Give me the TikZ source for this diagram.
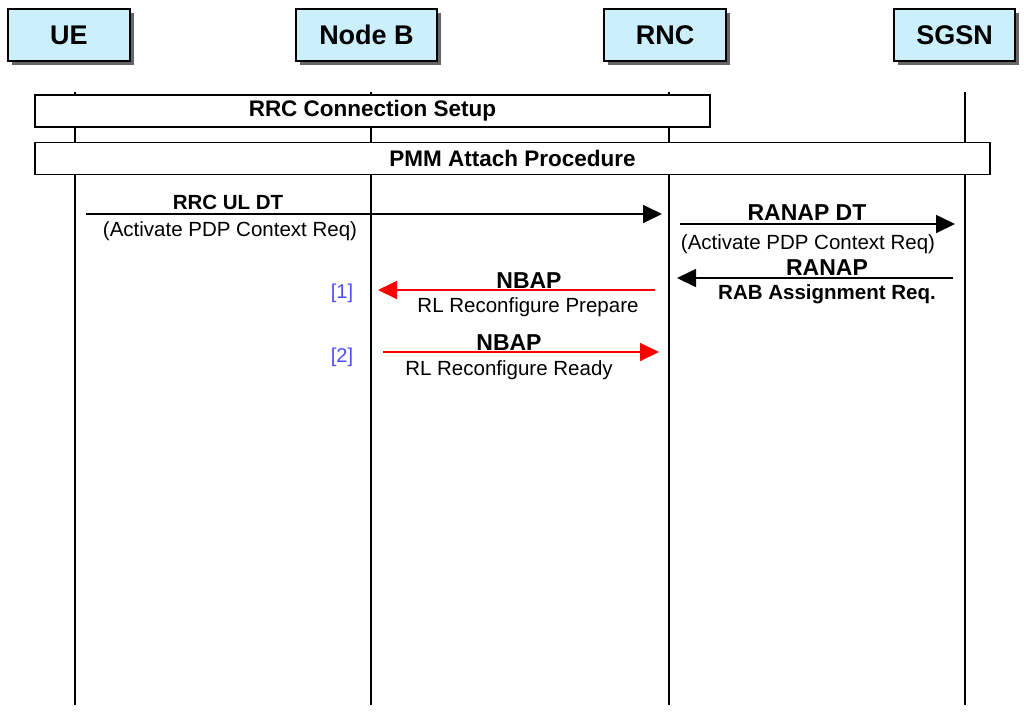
\documentclass[tikz,border=0pt]{standalone}
\usepackage{fontspec}
\setmainfont{Liberation Sans}
\usetikzlibrary{arrows.meta,shadows}

\begin{document}
\begin{tikzpicture}[x=1pt,y=-1pt,
  entity/.style={draw, line width=1.6pt, fill=cyan!20, minimum height=52pt,
    font=\fontsize{27}{30}\selectfont\bfseries,
    drop shadow={shadow xshift=4pt, shadow yshift=-4pt, fill=black!60, opacity=1}},
  bar/.style={draw, line width=1.5pt, fill=white, minimum height=32pt,
    font=\fontsize{22.5}{25}\selectfont\bfseries},
  life/.style={line width=1.8pt},
  msg/.style={line width=1.7pt, -{Triangle[length=19pt,width=18pt]}},
  title/.style={anchor=base, font=\fontsize{20.5}{23}\selectfont\bfseries},
  bigtitle/.style={anchor=base, font=\fontsize{23}{26}\selectfont\bfseries},
  detail/.style={anchor=base, font=\fontsize{20.5}{23}\selectfont},
  tag/.style={anchor=base, text=blue!70!white, font=\fontsize{20}{23}\selectfont}]
  \useasboundingbox[fill=white] (0,0) rectangle (1024,716);

  % entities
  \node[entity, minimum width=122pt] (ue) at (69,35) {UE};
  \node[entity, minimum width=141pt] (nodeb) at (366.5,35) {Node B};
  \node[entity, minimum width=122pt] (rnc) at (665,35) {RNC};
  \node[entity, minimum width=121pt] (sgsn) at (954.5,35) {SGSN};

  % lifelines
  \foreach \n/\x in {ue/75,nodeb/371,rnc/669,sgsn/965} {
    \coordinate (\n top) at (\x,92);
    \coordinate (\n bot) at (\x,705);
    \draw[life] (\n top) -- (\n bot);
  }

  % procedures
  \node[bar, minimum width=675pt] (rrc) at (372.5,111) {RRC Connection Setup};
  \node[bar, minimum width=955pt] (pmm) at (512.5,158.5) {PMM Attach Procedure};

  % message ends
  \coordinate (m1s) at (86,214);  \coordinate (m1e) at (662,214);
  \coordinate (m2s) at (680,224); \coordinate (m2e) at (955,224);
  \coordinate (m3s) at (953,278); \coordinate (m3e) at (677,278);
  \coordinate (m4s) at (655,290); \coordinate (m4e) at (378,290);
  \coordinate (m5s) at (383,352); \coordinate (m5e) at (659,352);

  \foreach \from/\to in {m1s/m1e,m2s/m2e,m3s/m3e}
    \draw[msg] (\from) -- (\to);
  \foreach \from/\to in {m4s/m4e,m5s/m5e}
    \draw[msg, red] (\from) -- (\to);

  % labels
  \node[title] (m1t) at (228,209) {RRC UL DT};
  \node[detail] (m1d) at (230,236) {(Activate PDP Context Req)};
  \node[bigtitle] (m2t) at (807,220) {RANAP DT};
  \node[detail] (m2d) at (808,249) {(Activate PDP Context Req)};
  \node[bigtitle] (m3t) at (827,275) {RANAP};
  \node[title] (m3d) at (827,299) {RAB Assignment Req.};
  \node[bigtitle] (m4t) at (529,288) {NBAP};
  \node[detail] (m4d) at (528,312) {RL Reconfigure Prepare};
  \node[bigtitle] (m5t) at (509,350) {NBAP};
  \node[detail] (m5d) at (509,375) {RL Reconfigure Ready};
  \node[tag] (t1) at (342,298) {[1]};
  \node[tag] (t2) at (342,362) {[2]};
\end{tikzpicture}
\end{document}
